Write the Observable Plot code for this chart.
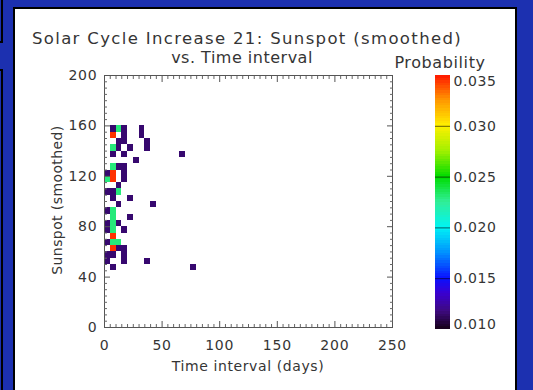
<!DOCTYPE html>
<html>
<head>
<meta charset="utf-8">
<script src="https://cdn.jsdelivr.net/npm/d3@7"></script>
<script src="https://cdn.jsdelivr.net/npm/@observablehq/plot@0.6"></script>
<style>
  html, body { margin: 0; padding: 0; background: #1c30b0; }
  #page { position: relative; width: 533px; height: 390px; overflow: hidden; background: #1c30b0;
          font-family: "DejaVu Sans", sans-serif; color: #353535; }
  .tab { position: absolute; border: 2px solid #000; background: #1c30b0; }
  #panel { position: absolute; left: 13px; top: 7px; width: 504px; height: 440px; background: #fff;
           border: 2px solid #000; box-sizing: border-box; }
  .t { position: absolute; white-space: nowrap; line-height: 1; }
  #page svg { position: absolute; overflow: visible; }
</style>
</head>
<body>
<div id="page">
  <div class="tab" style="left:-20px;top:-10px;width:19px;height:49px"></div>
  <div class="tab" style="left:-20px;top:69px;width:19px;height:400px"></div>
  <div id="panel"></div>
</div>
<script>
// Joint probability of smoothed sunspot number vs. time interval (cycle 21 rise)
const binDays = 5;      // width of a time-interval bin (days)
const binSunspot = 5;   // height of a sunspot bin

// Lower-left corner of each occupied bin and its probability
const cellDays = [
  5, 10, 15, 30,
  5, 15, 30,
  10, 15, 35,
  5, 10, 20, 35,
  5, 15, 65,
  25,
  5, 10, 15,
  0, 5, 15,
  0, 5, 15,
  10,
  0, 5, 10,
  5, 20,
  10, 40,
  0, 5,
  5, 20,
  0, 5, 10,
  0, 5, 15,
  5,
  0, 5, 10,
  5, 10, 15,
  0, 5, 15,
  0, 15, 35,
  5, 75
];
const cellSunspot = [
  155, 155, 155, 155,
  150, 150, 150,
  145, 145, 145,
  140, 140, 140, 140,
  135, 135, 135,
  130,
  125, 125, 125,
  120, 120, 120,
  115, 115, 115,
  110,
  105, 105, 105,
  100, 100,
  95, 95,
  90, 90,
  85, 85,
  80, 80, 80,
  75, 75, 75,
  70,
  65, 65, 65,
  60, 60, 60,
  55, 55, 55,
  50, 50, 50,
  45, 45
];
const cellProb = [
  0.0115, 0.023, 0.0115, 0.0115,
  0.0345, 0.0115, 0.0115,
  0.0115, 0.0115, 0.0115,
  0.023, 0.0115, 0.0115, 0.0115,
  0.0115, 0.0115, 0.0115,
  0.0115,
  0.023, 0.0115, 0.0115,
  0.0115, 0.0345, 0.0115,
  0.023, 0.0345, 0.0115,
  0.0115,
  0.0115, 0.0115, 0.023,
  0.0115, 0.0115,
  0.0115, 0.0115,
  0.0115, 0.023,
  0.023, 0.0115,
  0.0115, 0.023, 0.0115,
  0.0115, 0.023, 0.0115,
  0.0345,
  0.0115, 0.023, 0.023,
  0.0345, 0.0115, 0.0115,
  0.0115, 0.0115, 0.0115,
  0.0115, 0.0115, 0.0115,
  0.0115, 0.0115
];

// Axis ticks
const xMajor = [0, 50, 100, 150, 200, 250];
const yMajor = [0, 40, 80, 120, 160, 200];
const xMinor = d3.range(0, 251, 5).filter(v => v % 50 !== 0);
const yMinor = d3.range(0, 201, 5).filter(v => v % 40 !== 0);

// Colour table: dark purple -> blue -> cyan -> green -> yellow -> red
const probTicks = [0.010, 0.015, 0.020, 0.025, 0.030, 0.035];
const probStops = [0.010, 0.0118, 0.0135, 0.015, 0.0175, 0.020, 0.0225, 0.025, 0.0275, 0.030, 0.0325, 0.035];
const probColors = ["#160018", "#3e0a80", "#3a00d0", "#0a10ff", "#0090ff", "#00f4f4",
                    "#30ee98", "#00dc00", "#a0f000", "#fff000", "#ff9800", "#ff1800"];

const cells = cellDays.map((t, i) => ({t, s: cellSunspot[i], p: cellProb[i]}));
const colorScale = {type: "linear", domain: probStops, range: probColors, clamp: true};
const ink = "#353535";
const blank = () => "";

const page = document.getElementById("page");

// Inward tick marks: draw outward ticks, then shift them back across the frame line
function inwardTicks(anchor, ticks, size, stroke) {
  const shift = {bottom: {dy: -size}, top: {dy: size}, left: {dx: size}, right: {dx: -size}}[anchor];
  const axis = anchor === "bottom" || anchor === "top" ? Plot.axisX : Plot.axisY;
  return axis({anchor, ticks, tickSize: size, tickFormat: blank, label: null, stroke, ...shift});
}

const chart = Plot.plot({
  width: 533, height: 390,
  marginTop: 75, marginLeft: 104, marginRight: 141, marginBottom: 63,
  style: {background: "transparent", fontFamily: "DejaVu Sans, sans-serif", fontSize: "14px", color: ink, letterSpacing: "0.8px"},
  x: {domain: [0, 250]},
  y: {domain: [0, 200]},
  color: colorScale,
  marks: [
    Plot.rect(cells, {x1: "t", x2: d => d.t + binDays, y1: "s", y2: d => d.s + binSunspot, fill: "p", shapeRendering: "crispEdges"}),
    Plot.frame({stroke: "#555"}),
    inwardTicks("bottom", xMajor, 6, "#555"),
    inwardTicks("bottom", xMinor, 3, "#666"),
    inwardTicks("top", xMajor, 6, "#555"),
    inwardTicks("top", xMinor, 3, "#666"),
    inwardTicks("left", yMajor, 6, "#555"),
    inwardTicks("left", yMinor, 3, "#666"),
    inwardTicks("right", yMajor, 6, "#555"),
    inwardTicks("right", yMinor, 3, "#666"),
    // tick labels
    Plot.axisX({anchor: "bottom", ticks: xMajor, tickSize: 0, tickPadding: 13, label: null, fontSize: 14}),
    Plot.axisY({anchor: "left", ticks: yMajor, tickSize: 0, tickPadding: 7, label: null, fontSize: 14})
  ]
});
chart.style.left = "0px";
chart.style.top = "0px";
page.appendChild(chart);

// Vertical colour bar
const rampStep = 0.00025;
const ramp = d3.range(probTicks[0], probTicks[probTicks.length - 1] - rampStep / 2, rampStep);
const fmt = d3.format(".3f");
const bar = Plot.plot({
  width: 80, height: 281,
  marginTop: 15, marginBottom: 12, marginLeft: 0, marginRight: 65,
  style: {background: "transparent", fontFamily: "DejaVu Sans, sans-serif", fontSize: "14px", color: ink, letterSpacing: "0.6px"},
  y: {domain: [probTicks[0], probTicks[probTicks.length - 1]], axis: null},
  color: colorScale,
  marks: [
    Plot.rect(ramp, {y1: d => d, y2: d => d + rampStep, fill: d => d + rampStep / 2, shapeRendering: "crispEdges"}),
    Plot.ruleY(probTicks.slice(1, -1), {stroke: "#000", strokeOpacity: 0.6}),
    Plot.text(probTicks.slice(1, -1), {y: d => d, text: fmt, frameAnchor: "right", textAnchor: "start", dx: 3, fontSize: 14}),
    Plot.text(probTicks.slice(-1), {y: d => d, text: fmt, frameAnchor: "right", textAnchor: "start", dx: 3, dy: 6, fontSize: 14}),
    Plot.text(probTicks.slice(0, 1), {y: d => d, text: fmt, frameAnchor: "right", textAnchor: "start", dx: 3, dy: -5, fontSize: 14})
  ]
});
bar.style.left = "435px";
bar.style.top = "60px";
page.appendChild(bar);

// Titles
function addText(str, x, y, size, spacing = 0, rotate = 0) {
  const el = document.createElement("div");
  el.className = "t";
  el.textContent = str;
  el.style.fontSize = size + "px";
  el.style.letterSpacing = spacing + "px";
  el.style.left = x + "px";
  el.style.top = y + "px";
  el.style.transform = `translate(-50%, -50%)` + (rotate ? ` rotate(${rotate}deg)` : "");
  page.appendChild(el);
}
addText("Solar Cycle Increase 21: Sunspot (smoothed)", 247, 39, 16.5, 1.35);
addText("vs. Time interval", 242, 58, 16, 0.5);
addText("Probability", 440, 63, 16, 0.6);
addText("Time interval (days)", 248, 366, 14, 0.6);
addText("Sunspot (smoothed)", 57, 200, 14, 0.4, -90);
</script>
</body>
</html>
